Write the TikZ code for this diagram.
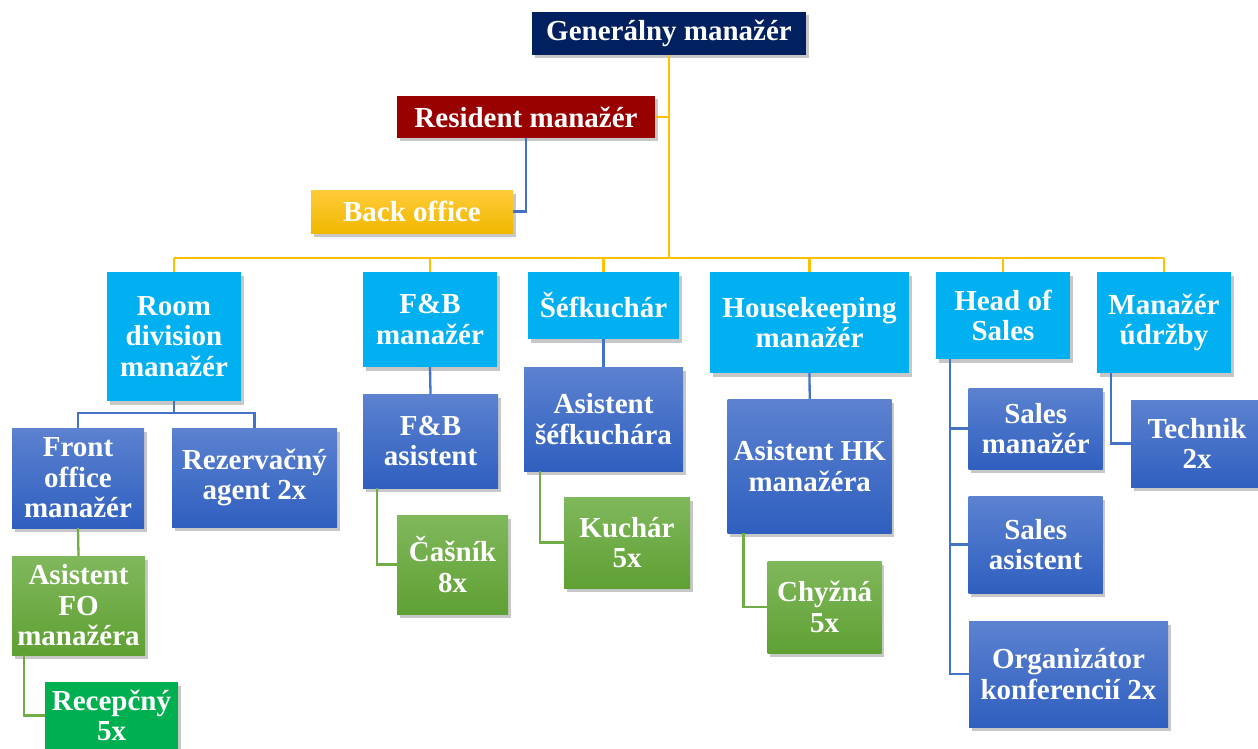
\documentclass[tikz,border=0pt]{standalone}
\usepackage{fontspec}
\setmainfont{Liberation Serif}
\usetikzlibrary{shadows}
\definecolor{navy}{HTML}{002060}
\definecolor{darkred}{HTML}{990000}
\definecolor{goldtop}{HTML}{FFCB3A}
\definecolor{goldbot}{HTML}{F0B800}
\definecolor{cyanb}{HTML}{00B0F0}
\definecolor{bluetop}{HTML}{5C82D0}
\definecolor{bluebot}{HTML}{2F5FBF}
\definecolor{greentop}{HTML}{80B85C}
\definecolor{greenbot}{HTML}{5FA033}
\definecolor{brightgreen}{HTML}{00B050}
\definecolor{lineblue}{HTML}{4472C4}
\definecolor{linegreen}{HTML}{70AD47}
\definecolor{linegold}{HTML}{FFC000}
\tikzset{
  box/.style={inner sep=0pt, align=center, text=white,
    font=\bfseries\fontsize{29}{30.5}\selectfont,
    drop shadow={shadow xshift=2.5pt, shadow yshift=-3.5pt, fill=black, opacity=0.22}},
  navybox/.style={box, fill=navy},
  redbox/.style={box, fill=darkred},
  goldbox/.style={box, top color=goldtop, bottom color=goldbot},
  cyanbox/.style={box, fill=cyanb},
  bluebox/.style={box, top color=bluetop, bottom color=bluebot},
  greenbox/.style={box, top color=greentop, bottom color=greenbot},
  bgreenbox/.style={box, fill=brightgreen},
  goldline/.style={draw=linegold, line width=2.6pt},
  blueline/.style={draw=lineblue, line width=2.3pt},
  greenline/.style={draw=linegreen, line width=2.3pt},
}
\begin{document}
\begin{tikzpicture}[x=1pt,y=-1pt]
\useasboundingbox (0,0) rectangle (1258,749);
% connectors first (behind boxes)
\coordinate (busL) at (174,258);
\coordinate (busR) at (1164,258);
\coordinate (busM) at (669,258);
\coordinate (rj) at (174,413);

% top level nodes
\node[navybox, minimum width=274pt, minimum height=43pt] (gen) at (669,33.5) {Generálny manažér};
\node[redbox, minimum width=258pt, minimum height=42pt] (res) at (526,117) {Resident manažér};
\node[goldbox, minimum width=202pt, minimum height=43pt] (back) at (412,211.5) {Back office};

% second level
\node[cyanbox, minimum width=134pt, minimum height=129pt] (room) at (174,336.5) {Room\\division\\manažér};
\node[cyanbox, minimum width=134pt, minimum height=95pt] (fbm) at (430,319.5) {F\&B\\manažér};
\node[cyanbox, minimum width=151pt, minimum height=67pt] (sef) at (603.5,305.5) {Šéfkuchár};
\node[cyanbox, minimum width=199pt, minimum height=101pt] (hk) at (809.5,322.5) {Housekeeping\\manažér};
\node[cyanbox, minimum width=134pt, minimum height=87pt] (hos) at (1003,315.5) {Head of\\Sales};
\node[cyanbox, minimum width=134pt, minimum height=101pt] (udr) at (1164,322.5) {Manažér\\údržby};

% third level
\node[bluebox, minimum width=132pt, minimum height=100pt] (fom) at (78,478) {Front\\office\\manažér};
\node[bluebox, minimum width=165pt, minimum height=99pt] (rez) at (254.5,477.5) {Rezervačný\\agent 2x};
\node[greenbox, minimum width=133pt, minimum height=99pt] (afo) at (78.5,605.5) {Asistent\\FO\\manažéra};
\node[bgreenbox, minimum width=133pt, minimum height=67pt] (rec) at (111.5,715.5) {Recepčný\\5x};
\node[bluebox, minimum width=135pt, minimum height=94pt] (fba) at (430.5,441) {F\&B\\asistent};
\node[greenbox, minimum width=111pt, minimum height=99pt] (cas) at (452.5,564.5) {Čašník\\8x};
\node[bluebox, minimum width=159pt, minimum height=104pt] (asef) at (603.5,419) {Asistent\\šéfkuchára};
\node[greenbox, minimum width=126pt, minimum height=91pt] (kuc) at (627,542.5) {Kuchár\\5x};
\node[bluebox, minimum width=164pt, minimum height=134pt] (ahk) at (809.7,466) {Asistent HK\\manažéra};
\node[greenbox, minimum width=114pt, minimum height=92pt] (chy) at (824.7,607) {Chyžná\\5x};
\node[bluebox, minimum width=134pt, minimum height=81pt] (sm) at (1035.7,428.5) {Sales\\manažér};
\node[bluebox, minimum width=134pt, minimum height=97pt] (sa) at (1035.7,544.5) {Sales\\asistent};
\node[bluebox, minimum width=199pt, minimum height=106pt] (org) at (1068.5,674) {Organizátor\\konferencií 2x};
\node[bluebox, minimum width=132pt, minimum height=87pt] (tech) at (1197,443.5) {Technik\\2x};

% connectors
\begin{scope}[on background layer/.style={}]
\end{scope}
\draw[goldline] (gen.south) -- (busM);
\draw[goldline] (res.east) -- (res.east -| gen.south);
\draw[goldline] (busL) -- (busR);
\foreach \n in {room,fbm,sef,hk,hos,udr}{
  \draw[goldline] (\n.north) -- (\n.north |- busL);
}
\draw[blueline] (res.south) |- (back.east);
\draw[blueline] (room.south) -- (rj) -| (fom.north);
\draw[blueline] (rj) -| (rez.north);
\draw[greenline] (fom.south) -- (afo.north);
\draw[greenline] ([xshift=-54.5pt]afo.south) |- (rec.west);
\draw[blueline] (fbm.south) -- (fba.north);
\draw[greenline] ([xshift=-53.8pt]fba.south) |- (cas.west);
\draw[blueline] (sef.south) -- (asef.north);
\draw[greenline] ([xshift=-63.5pt]asef.south) |- (kuc.west);
\draw[blueline] (hk.south) -- (ahk.north);
\draw[greenline] ([xshift=-66.3pt]ahk.south) |- (chy.west);
\draw[blueline] ([xshift=-53.2pt]hos.south) |- (sm.west);
\draw[blueline] ([xshift=-53.2pt]hos.south) |- (sa.west);
\draw[blueline] ([xshift=-53.2pt]hos.south) |- (org.west);
\draw[blueline] ([xshift=-53pt]udr.south) |- (tech.west);
\end{tikzpicture}
\end{document}
